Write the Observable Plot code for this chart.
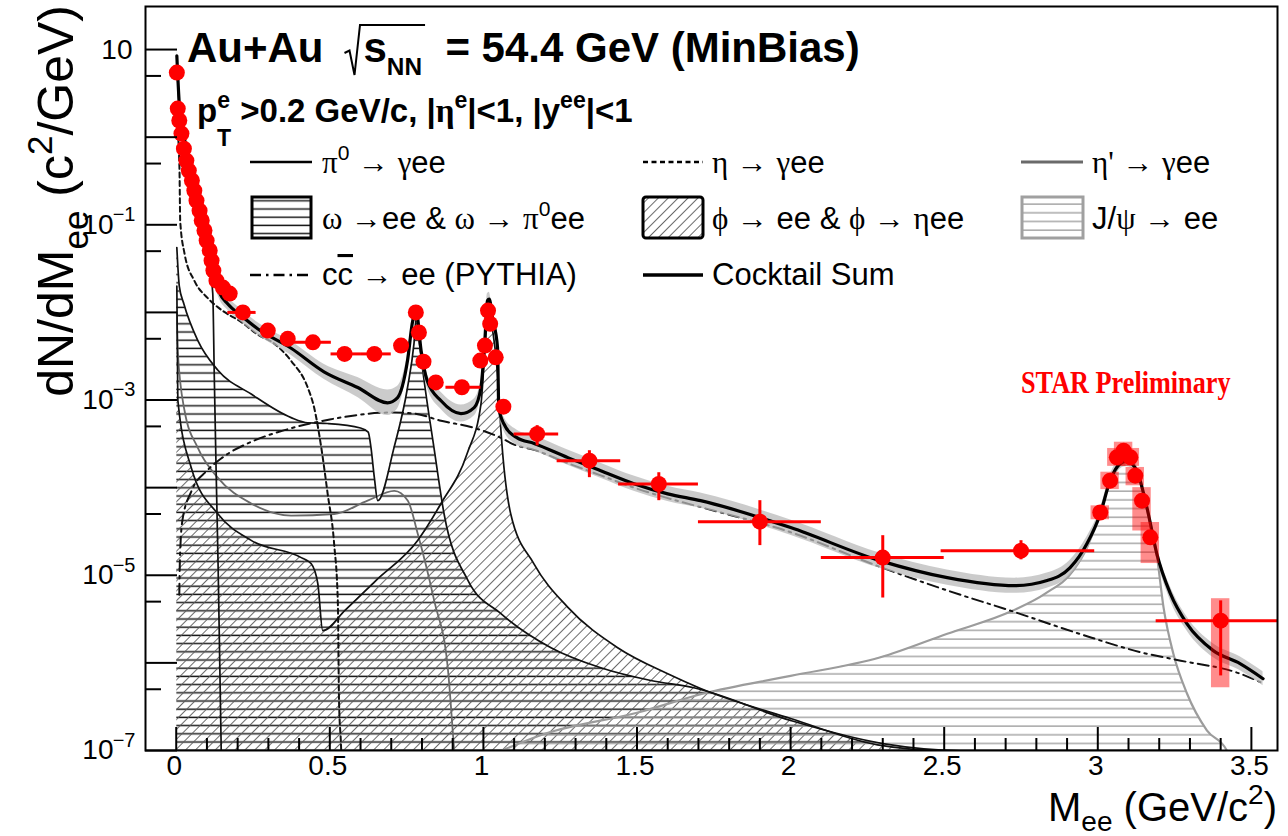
<!DOCTYPE html>
<html>
<head>
<meta charset="utf-8">
<script src="https://cdn.jsdelivr.net/npm/d3@7"></script>
<script src="https://cdn.jsdelivr.net/npm/@observablehq/plot@0.6"></script>
<style>
  html, body { margin: 0; padding: 0; background: #fff; }
  #chart { position: relative; width: 1288px; height: 836px; overflow: hidden; }
  #chart > svg { position: absolute; left: 0; top: 0; }
</style>
</head>
<body>
<div id="chart"></div>
<script>
// ---------------------------------------------------------------
// Dielectron invariant-mass spectrum, Au+Au at 54.4 GeV (MinBias)
// ---------------------------------------------------------------

// Measured yield dN/dMee (c^2/GeV) at each mass point (GeV/c^2)
const dataMass = [0.002, 0.005, 0.010, 0.017, 0.025, 0.033, 0.041, 0.051, 0.059, 0.066,
  0.076, 0.083, 0.092, 0.099, 0.109, 0.115, 0.121, 0.131, 0.152, 0.174,
  0.217, 0.298, 0.363, 0.445, 0.548, 0.645, 0.732, 0.780, 0.790, 0.805, 0.845, 0.930,
  0.990, 1.005, 1.015, 1.022, 1.040, 1.065, 1.175, 1.345, 1.571, 1.900, 2.300, 2.750,
  3.008, 3.040, 3.062, 3.084, 3.106, 3.122, 3.144, 3.171, 3.400];
const dataYield = [5.46, 2.12, 1.55, 1.10, 0.74, 0.54, 0.416, 0.320, 0.246, 0.189,
  0.145, 0.112, 0.086, 0.066, 0.051, 0.039, 0.030, 0.023, 0.0192, 0.0164,
  0.0100, 6.2e-3, 4.99e-3, 4.56e-3, 3.36e-3, 3.36e-3, 4.18e-3, 0.0100, 5.9e-3, 2.74e-3, 1.59e-3, 1.40e-3,
  2.82e-3, 4.18e-3, 0.0105, 7.4e-3, 3.07e-3, 8.4e-4, 4.1e-4, 2.03e-4, 1.10e-4, 4.09e-5, 1.59e-5, 1.91e-5,
  5.2e-5, 1.20e-4, 2.22e-4, 2.64e-4, 2.22e-4, 1.37e-4, 7.1e-5, 2.71e-5, 3.03e-6];

// Bin edges of the wider mass bins
const binMass = [0.217, 0.445, 0.548, 0.645, 0.930, 1.175, 1.345, 1.571, 1.900, 2.300, 2.750, 3.400];
const binLow  = [0.168, 0.385, 0.504, 0.600, 0.878, 1.100, 1.240, 1.440, 1.700, 2.100, 2.490, 3.190];
const binHigh = [0.260, 0.505, 0.600, 0.700, 0.992, 1.245, 1.447, 1.700, 2.100, 2.500, 2.990, 3.600];

// Statistical uncertainties (lower / upper yield)
const statMass = [1.175, 1.345, 1.571, 1.900, 2.300, 2.750, 3.400];
const statLow  = [3.0e-4, 1.30e-4, 7.1e-5, 2.18e-5, 5.5e-6, 1.5e-5, 7.1e-7];
const statHigh = [5.1e-4, 2.64e-4, 1.48e-4, 7.1e-5, 2.83e-5, 2.48e-5, 5.1e-6];

// Systematic uncertainties (lower / upper yield)
const sysMass = [3.008, 3.040, 3.062, 3.084, 3.106, 3.122, 3.144, 3.171, 3.400];
const sysLow  = [4.3e-5, 9.5e-5, 1.75e-4, 2.1e-4, 1.75e-4, 1.05e-4, 3.2e-5, 1.36e-5, 5.2e-7];
const sysHigh = [6.2e-5, 1.5e-4, 2.8e-4, 3.3e-4, 2.8e-4, 1.7e-4, 1.0e-4, 4.0e-5, 5.4e-6];

// Hadronic cocktail components
const pi0Mass  = [0.002, 0.010, 0.020, 0.040, 0.060, 0.080, 0.100, 0.112, 0.119, 0.124, 0.130, 0.136, 0.146, 0.150];
const pi0Yield = [7.5, 2.0, 1.0, 0.42, 0.21, 0.10, 0.045, 0.027, 0.0164, 1.8e-3, 1.5e-4, 1.47e-5, 1.3e-7, 1e-8];

const etaMass  = [0.002, 0.0105, 0.013, 0.027, 0.059, 0.103, 0.150, 0.211, 0.265, 0.319,
  0.374, 0.428, 0.449, 0.472, 0.493, 0.514, 0.526, 0.530, 0.537, 0.548];
const etaYield = [1.5, 0.45, 0.11, 0.047, 0.023, 0.0145, 0.0105, 0.0078, 0.0056, 0.0044,
  0.0028, 0.00139, 0.00082, 0.00029, 8.5e-5, 2.3e-5, 5.1e-6, 3.7e-7, 1e-7, 1e-9];

const etapMass  = [0.002, 0.005, 0.027, 0.070, 0.135, 0.244, 0.374, 0.514, 0.623, 0.710,
  0.754, 0.786, 0.840, 0.884, 0.905, 0.930, 0.958];
const etapYield = [0.01, 0.0036, 0.00076, 0.000286, 0.00013, 6.6e-5, 4.8e-5, 5.0e-5, 7.1e-5, 9.2e-5,
  7.1e-5, 3.0e-5, 5.1e-6, 8.8e-7, 1e-7, 1e-8, 1e-9];

const omegaMass  = [0.002, 0.010, 0.025, 0.070, 0.135, 0.244, 0.374, 0.428, 0.492, 0.600,
  0.625, 0.634, 0.645, 0.656, 0.709, 0.753, 0.774, 0.782, 0.790, 0.807,
  0.839, 0.872, 0.950, 1.057, 1.220, 1.382, 1.545, 1.685, 2.000, 2.300,
  2.550, 2.700, 3.400];
const omegaYield = [0.055, 0.020, 0.0125, 0.0048, 0.0022, 0.00117, 0.00063, 0.00055, 0.00054, 0.00048,
  0.00043, 0.000286, 0.00013, 7.1e-5, 0.000286, 0.00139, 0.0044, 0.009, 0.005, 0.00166,
  0.000286, 5.0e-5, 8.7e-6, 3.65e-6, 1.49e-6, 8.8e-7, 6.3e-7, 5.2e-7, 2.2e-7, 1.2e-7,
  8e-8, 5e-8, 1e-8];

const phiMass  = [0.002, 0.004, 0.0055, 0.049, 0.136, 0.244, 0.407, 0.439, 0.461, 0.477,
  0.550, 0.650, 0.786, 0.862, 0.948, 0.992, 1.013, 1.019, 1.025, 1.046,
  1.057, 1.089, 1.164, 1.275, 1.437, 1.600, 1.707, 2.003, 2.283, 2.500,
  2.700, 3.400];
const phiYield = [0.02, 0.003, 0.00098, 0.000169, 5.0e-5, 2.5e-5, 1.59e-5, 1.36e-5, 8.0e-6, 2.33e-6,
  4.0e-6, 8.7e-6, 2.5e-5, 6.6e-5, 0.00025, 0.0009, 0.0097, 0.013, 0.0085, 0.002,
  0.00045, 5.0e-5, 1.36e-5, 4.3e-6, 1.49e-6, 7.5e-7, 5.1e-7, 2.3e-7, 1.16e-7, 8e-8,
  5e-8, 1e-8];

const jpsiMass  = [1.060, 1.200, 1.500, 1.720, 2.000, 2.290, 2.510, 2.720, 2.830, 2.920,
  2.965, 2.998, 3.040, 3.073, 3.095, 3.127, 3.160, 3.192, 3.214, 3.246,
  3.290, 3.355, 3.420, 3.450];
const jpsiYield = [1e-7, 1.55e-7, 2.7e-7, 4.5e-7, 7.1e-7, 1.15e-6, 2.15e-6, 3.9e-6, 6.2e-6, 1.13e-5,
  2.07e-5, 4.2e-5, 1.15e-4, 1.8e-4, 1.95e-4, 1.5e-4, 5.8e-5, 1.7e-5, 4.3e-6, 1.27e-6,
  4.5e-7, 1.7e-7, 1e-7, 5e-8];

const ccMass  = [0.010, 0.012, 0.020, 0.050, 0.100, 0.150, 0.250, 0.350, 0.500, 0.700,
  0.774, 0.862, 0.970, 1.057, 1.100, 1.165, 1.275, 1.382, 1.490, 1.600,
  1.707, 2.000, 2.290, 2.510, 2.720, 2.940, 3.160, 3.270, 3.460, 3.540];
const ccYield = [6e-6, 1.5e-5, 4.2e-5, 9.2e-5, 1.56e-4, 2.2e-4, 3.4e-4, 4.5e-4, 6.0e-4, 7.2e-4,
  7.0e-4, 5.8e-4, 4.8e-4, 3.7e-4, 3.1e-4, 2.7e-4, 1.9e-4, 1.38e-4, 1.0e-4, 7.6e-5,
  6.0e-5, 3.1e-5, 1.25e-5, 6.7e-6, 3.9e-6, 2.15e-6, 1.27e-6, 1.06e-6, 7.6e-7, 5.8e-7];

// Cocktail sum and its relative uncertainty
const sumMass = [0.002, 0.010, 0.020, 0.030, 0.045, 0.060, 0.075, 0.090, 0.105, 0.115,
  0.125, 0.140, 0.168, 0.211, 0.265, 0.374, 0.481, 0.591, 0.688, 0.720,
  0.753, 0.770, 0.782, 0.797, 0.817, 0.862, 0.927, 0.970, 0.992, 1.005,
  1.013, 1.019, 1.030, 1.046, 1.050, 1.066, 1.110, 1.165, 1.275, 1.382,
  1.490, 1.600, 1.707, 2.000, 2.290, 2.510, 2.730, 2.835, 2.910, 2.965,
  3.008, 3.040, 3.073, 3.095, 3.127, 3.160, 3.192, 3.236, 3.290, 3.376,
  3.463, 3.538];
const sumYield = [8.5, 2.4, 1.25, 0.85, 0.50, 0.30, 0.18, 0.10, 0.058, 0.040,
  0.025, 0.017, 0.0125, 0.0092, 0.0065, 0.0039, 0.0021, 0.00139, 0.00093, 0.00106,
  0.00282, 0.0080, 0.0098, 0.0037, 0.00166, 0.00098, 0.00070, 0.00082, 0.00139, 0.0050,
  0.0136, 0.0142, 0.0085, 0.00396, 0.00082, 0.00054, 0.00037, 0.00032, 0.00022, 0.000156,
  0.000111, 8.5e-5, 7.1e-5, 3.5e-5, 1.47e-5, 9.4e-6, 7.6e-6, 8.7e-6, 1.22e-5, 2.3e-5,
  5.0e-5, 1.2e-4, 1.88e-4, 2.0e-4, 1.56e-4, 5.9e-5, 1.77e-5, 6.2e-6, 2.8e-6, 1.38e-6,
  9.8e-7, 6.6e-7];
const sumRelUnc = [0.18, 0.18, 0.18, 0.18, 0.18, 0.18, 0.18, 0.18, 0.18, 0.18,
  0.18, 0.18, 0.18, 0.18, 0.18, 0.2, 0.22, 0.3, 0.4, 0.35,
  0.2, 0.2, 0.2, 0.2, 0.2, 0.25, 0.25, 0.25, 0.2, 0.2,
  0.2, 0.2, 0.2, 0.2, 0.2, 0.2, 0.22, 0.22, 0.22, 0.22,
  0.22, 0.22, 0.22, 0.22, 0.22, 0.22, 0.22, 0.22, 0.22, 0.2,
  0.15, 0.15, 0.15, 0.15, 0.15, 0.15, 0.15, 0.2, 0.2, 0.2,
  0.2, 0.2];

// Axis ticks
const xMajorTicks = [0, 0.5, 1, 1.5, 2, 2.5, 3, 3.5];
const xMinorTicks = [0.1, 0.2, 0.3, 0.4, 0.6, 0.7, 0.8, 0.9, 1.1, 1.2, 1.3, 1.4, 1.6, 1.7, 1.8, 1.9,
  2.1, 2.2, 2.3, 2.4, 2.6, 2.7, 2.8, 2.9, 3.1, 3.2, 3.3, 3.4];
const yMajorTicks = [1e-7, 1e-6, 1e-5, 1e-4, 1e-3, 1e-2, 1e-1, 1, 10];
const yMinorTicks = [5e-7, 5e-6, 5e-5, 5e-4, 5e-3, 5e-2, 0.5, 5];
const yLabelTicks = [10, 0.1, 1e-3, 1e-5, 1e-7];
const yLabelExp   = ["", "\u22121", "\u22123", "\u22125", "\u22127"];

// ---------------------------------------------------------------
const W = 1288, H = 836;
const M = {left: 145, right: 11, top: 6, bottom: 86};
const FRAME_W = W - M.left - M.right;
const FRAME_H = H - M.top - M.bottom;
const FLOOR = 1e-7;
const SYS_HALF = 0.03;
const SANS = "'Liberation Sans', Arial, Helvetica, sans-serif";
const SERIF = "'Liberation Serif', 'Times New Roman', serif";

const rowsOf = (mass, values) => mass.map((m, i) => ({m, v: values[i]}));
const dataRows = rowsOf(dataMass, dataYield);
const yieldAt = new Map(dataMass.map((m, i) => [m, dataYield[i]]));
const binRows = binMass.map((m, i) => ({m, v: yieldAt.get(m), lo: binLow[i], hi: binHigh[i]}));
const statRows = statMass.map((m, i) => ({m, lo: statLow[i], hi: statHigh[i]}));
const sysRows = sysMass.map((m, i) => ({m, lo: sysLow[i], hi: sysHigh[i]}));
const pi0 = rowsOf(pi0Mass, pi0Yield);
const eta = rowsOf(etaMass, etaYield);
const etap = rowsOf(etapMass, etapYield);
const omega = rowsOf(omegaMass, omegaYield);
const phi = rowsOf(phiMass, phiYield);
const jpsi = rowsOf(jpsiMass, jpsiYield);
const cc = rowsOf(ccMass, ccYield);
const sum = sumMass.map((m, i) => ({m, v: sumYield[i], u: sumRelUnc[i]}));

// curves that run out of the frame are drawn along its lower edge
const atFloor = d => Math.max(d.v, FLOOR);
const curve = "monotone-x";

const chart = Plot.plot({
  width: W, height: H,
  marginLeft: M.left, marginRight: M.right, marginTop: M.top, marginBottom: M.bottom,
  style: {fontFamily: SANS, background: "#fff", color: "#000"},
  x: {domain: [-0.1, 3.585], axis: null},
  y: {type: "log", domain: [FLOOR, 31], axis: null},
  marks: [
    // hatched cocktail contributions
    Plot.areaY(omega, {x: "m", y1: () => FLOOR, y2: atFloor, fill: "url(#hatch-omega)", curve, clip: true}),
    Plot.areaY(phi, {x: "m", y1: () => FLOOR, y2: atFloor, fill: "url(#hatch-phi)", curve, clip: true}),
    Plot.areaY(jpsi, {x: "m", y1: () => FLOOR, y2: "v", fill: "url(#hatch-jpsi)", curve, clip: true}),

    // component curves
    Plot.line(jpsi, {x: "m", y: "v", stroke: "#9c9c9c", strokeWidth: 2.2, curve, clip: true}),
    Plot.line(etap, {x: "m", y: "v", stroke: "#6a6a6a", strokeWidth: 1.8, curve, clip: true}),
    Plot.line(omega, {x: "m", y: atFloor, stroke: "#111", strokeWidth: 1.7, curve, clip: true}),
    Plot.line(phi, {x: "m", y: atFloor, stroke: "#111", strokeWidth: 1.7, curve, clip: true}),
    Plot.line(pi0, {x: "m", y: "v", stroke: "#111", strokeWidth: 1.7, curve, clip: true}),
    Plot.line(eta, {x: "m", y: "v", stroke: "#111", strokeWidth: 2, strokeDasharray: "5,3.5", curve, clip: true}),
    Plot.line(cc, {x: "m", y: "v", stroke: "#111", strokeWidth: 2, strokeDasharray: "11,5,2.5,5", curve, clip: true}),

    // cocktail sum with its uncertainty band
    Plot.areaY(sum, {x: "m", y1: d => d.v / (1 + d.u), y2: d => d.v * (1 + d.u), fill: "#b9b9b9", fillOpacity: 0.75, curve, clip: true}),
    Plot.line(sum, {x: "m", y: "v", stroke: "#000", strokeWidth: 3.2, curve, clip: true}),

    // measured data
    Plot.rect(sysRows, {x1: d => d.m - SYS_HALF, x2: d => d.m + SYS_HALF, y1: "lo", y2: "hi", fill: "#ff0000", fillOpacity: 0.45, clip: true}),
    Plot.ruleY(binRows, {y: "v", x1: "lo", x2: "hi", stroke: "#ff0000", strokeWidth: 3, clip: true}),
    Plot.ruleX(statRows, {x: "m", y1: "lo", y2: "hi", stroke: "#ff0000", strokeWidth: 3, clip: true}),
    Plot.dot(dataRows, {x: "m", y: "v", r: 8, fill: "#ff0000", stroke: "none"}),

    // axes: inward ticks, labels and frame
    Plot.ruleY(yMajorTicks, {y: d => d, insetRight: FRAME_W - 32, stroke: "#000", strokeWidth: 2}),
    Plot.ruleY(yMinorTicks, {y: d => d, insetRight: FRAME_W - 16, stroke: "#000", strokeWidth: 2}),
    Plot.ruleX(xMajorTicks, {x: d => d, insetTop: FRAME_H - 23, stroke: "#000", strokeWidth: 2}),
    Plot.ruleX(xMinorTicks, {x: d => d, insetTop: FRAME_H - 12, stroke: "#000", strokeWidth: 2}),
    Plot.text(xMajorTicks, {x: d => d, text: d => String(d), frameAnchor: "bottom", dy: 24, dx: -2, fontSize: 28, fill: "#000"}),
    Plot.text(yLabelTicks.slice(0, 1), {y: d => d, text: () => "10", frameAnchor: "left", textAnchor: "end", dx: -13, fontSize: 28, fill: "#000"}),
    Plot.text(yLabelTicks.slice(1), {y: d => d, text: () => "10", frameAnchor: "left", textAnchor: "end", dx: -32, fontSize: 28, fill: "#000"}),
    Plot.text(yLabelTicks.slice(1), {y: d => d, text: (d, i) => yLabelExp[i + 1], frameAnchor: "left", textAnchor: "end", dx: -10, dy: -10, fontSize: 20, fill: "#000"}),
    Plot.frame({stroke: "#000", strokeWidth: 2})
  ]
});

const root = d3.select("#chart");
root.node().appendChild(chart);

// ---------------------------------------------------------------
// Overlay: hatch patterns, titles and legend
const overlay = root.append("svg").attr("width", W).attr("height", H).style("pointer-events", "none");
const defs = overlay.append("defs");
const hp = defs.append("pattern").attr("id", "hatch-omega").attr("patternUnits", "userSpaceOnUse").attr("width", 12).attr("height", 8.2);
hp.append("line").attr("x1", 0).attr("x2", 12).attr("y1", 4).attr("y2", 4).attr("stroke", "#1a1a1a").attr("stroke-width", 1.5);
const dp = defs.append("pattern").attr("id", "hatch-phi").attr("patternUnits", "userSpaceOnUse").attr("width", 7).attr("height", 7).attr("patternTransform", "rotate(45)");
dp.append("line").attr("x1", 3.5).attr("x2", 3.5).attr("y1", 0).attr("y2", 7).attr("stroke", "#5a5a5a").attr("stroke-width", 0.9);
const jp = defs.append("pattern").attr("id", "hatch-jpsi").attr("patternUnits", "userSpaceOnUse").attr("width", 12).attr("height", 8.7);
jp.append("line").attr("x1", 0).attr("x2", 12).attr("y1", 4).attr("y2", 4).attr("stroke", "#a0a0a0").attr("stroke-width", 1.4);

function rich(parent, x, y, parts, opt) {
  const size = opt.size;
  const text = parent.append("text").attr("x", x).attr("y", y)
    .attr("font-family", opt.family || SANS).attr("font-size", size)
    .attr("font-weight", opt.weight || "normal").attr("fill", opt.fill || "#000")
    .attr("text-anchor", opt.anchor || "start").style("white-space", "pre");
  if (opt.transform) text.attr("transform", opt.transform);
  let cur = 0;
  for (const p of parts) {
    const q = typeof p === "string" ? {t: p} : p;
    let off = 0, scale = 1;
    if (q.sup) { off = -(q.shift ?? 0.42) * size; scale = q.scale ?? 0.68; }
    if (q.sub) { off = (q.shift ?? 0.28) * size; scale = q.scale ?? 0.68; }
    const ts = text.append("tspan").text(q.t).attr("dy", off - cur);
    if (q.dx) ts.attr("dx", q.dx);
    cur = off;
    if (scale !== 1) ts.attr("font-size", size * scale);
    if (q.greek) ts.attr("font-family", SERIF);
    if (q.weight) ts.attr("font-weight", q.weight);
    if (q.over) ts.style("text-decoration", "overline");
  }
  return text;
}

// headline with a drawn radical over s_NN
const t1 = rich(overlay, 187, 62, ["Au+Au"], {size: 42, weight: "bold"});
const rx = 187 + t1.node().getComputedTextLength() + 21;
const t2 = rich(overlay, rx + 19, 62, ["s", {t: "NN", sub: true, shift: 0.3, scale: 0.58}, "  = 54.4 GeV (MinBias)"], {size: 42, weight: "bold"});
const sw = t2.node().getSubStringLength(0, 3);
overlay.append("path")
  .attr("d", `M${rx},53 L${rx + 5},50.5 L${rx + 10},75 L${rx + 15.5},25 H${rx + 19 + sw + 3}`)
  .attr("fill", "none").attr("stroke", "#000").attr("stroke-width", 2);

rich(overlay, 197, 122, ["p", {t: "e", sup: true, shift: 0.42, scale: 0.7}, {t: "T", sub: true, shift: 0.72, scale: 0.7, dx: -13},
  " >0.2 GeV/c, |", {t: "\u03b7", greek: true}, {t: "e", sup: true, shift: 0.42, scale: 0.7}, "|<1, |y",
  {t: "ee", sup: true, shift: 0.42, scale: 0.7}, "|<1"], {size: 33, weight: "bold"});

// legend
const LS = 31;
const arrow = {t: "\u2192", greek: true};
const leg = overlay.append("g");
const hline = (x1, x2, y, stroke, w, dash) => {
  const l = leg.append("line").attr("x1", x1).attr("x2", x2).attr("y1", y).attr("y2", y).attr("stroke", stroke).attr("stroke-width", w);
  if (dash) l.attr("stroke-dasharray", dash);
};
hline(250, 312, 162, "#000", 2.5);
rich(leg, 322, 173, [{t: "\u03c0", greek: true}, {t: "0", sup: true}, " ", arrow, " ", {t: "\u03b3", greek: true}, "ee"], {size: LS});
hline(643, 703, 162, "#000", 2.5, "5,3.5");
rich(leg, 712, 173, [{t: "\u03b7", greek: true}, " ", arrow, " ", {t: "\u03b3", greek: true}, "ee"], {size: LS});
hline(1021, 1083, 162, "#6a6a6a", 3);
rich(leg, 1092, 173, [{t: "\u03b7'", greek: true}, " ", arrow, " ", {t: "\u03b3", greek: true}, "ee"], {size: LS});

leg.append("rect").attr("x", 252).attr("y", 197).attr("width", 59).attr("height", 41).attr("fill", "url(#hatch-omega)").attr("stroke", "#000").attr("stroke-width", 3);
rich(leg, 322, 229, [{t: "\u03c9", greek: true}, " ", arrow, "ee & ", {t: "\u03c9", greek: true}, " ", arrow, " ", {t: "\u03c0", greek: true}, {t: "0", sup: true}, "ee"], {size: LS});
leg.append("rect").attr("x", 643).attr("y", 197).attr("width", 60).attr("height", 41).attr("rx", 3).attr("fill", "url(#hatch-phi)").attr("stroke", "#000").attr("stroke-width", 3);
rich(leg, 712, 229, [{t: "\u03d5", greek: true}, " ", arrow, " ee & ", {t: "\u03d5", greek: true}, " ", arrow, " ", {t: "\u03b7", greek: true}, "ee"], {size: LS});
leg.append("rect").attr("x", 1022).attr("y", 197).attr("width", 61).attr("height", 41).attr("fill", "url(#hatch-jpsi)").attr("stroke", "#a0a0a0").attr("stroke-width", 3);
rich(leg, 1092, 229, ["J/", {t: "\u03c8", greek: true}, " ", arrow, " ee"], {size: LS});

hline(250, 312, 275, "#000", 2.5, "11,5,2.5,5");
rich(leg, 322, 285, ["c", {t: "c", over: true}, " ", arrow, " ee (PYTHIA)"], {size: LS});
hline(643, 703, 275, "#000", 3.5);
rich(leg, 712, 285, ["Cocktail Sum"], {size: LS});

// preliminary tag (slightly condensed serif)
rich(overlay, 0, 0, ["STAR Preliminary"], {size: 32, weight: "bold", family: SERIF, fill: "#ff0000",
  transform: "translate(1021,393) scale(0.82,1)"});

// axis titles
rich(overlay, 1277, 821, ["M", {t: "ee", sub: true, shift: 0.24, scale: 0.7}, " (GeV/c", {t: "2", sup: true, scale: 0.7}, ")"], {size: 40, anchor: "end"});
rich(overlay, 0, 0, ["dN/dM", {t: "ee", sub: true, shift: 0.3, scale: 0.7}, " (c", {t: "2", sup: true, scale: 0.7}, "/GeV)"],
  {size: 50, anchor: "end", transform: "translate(73,5) rotate(-90)"});
</script>
</body>
</html>
